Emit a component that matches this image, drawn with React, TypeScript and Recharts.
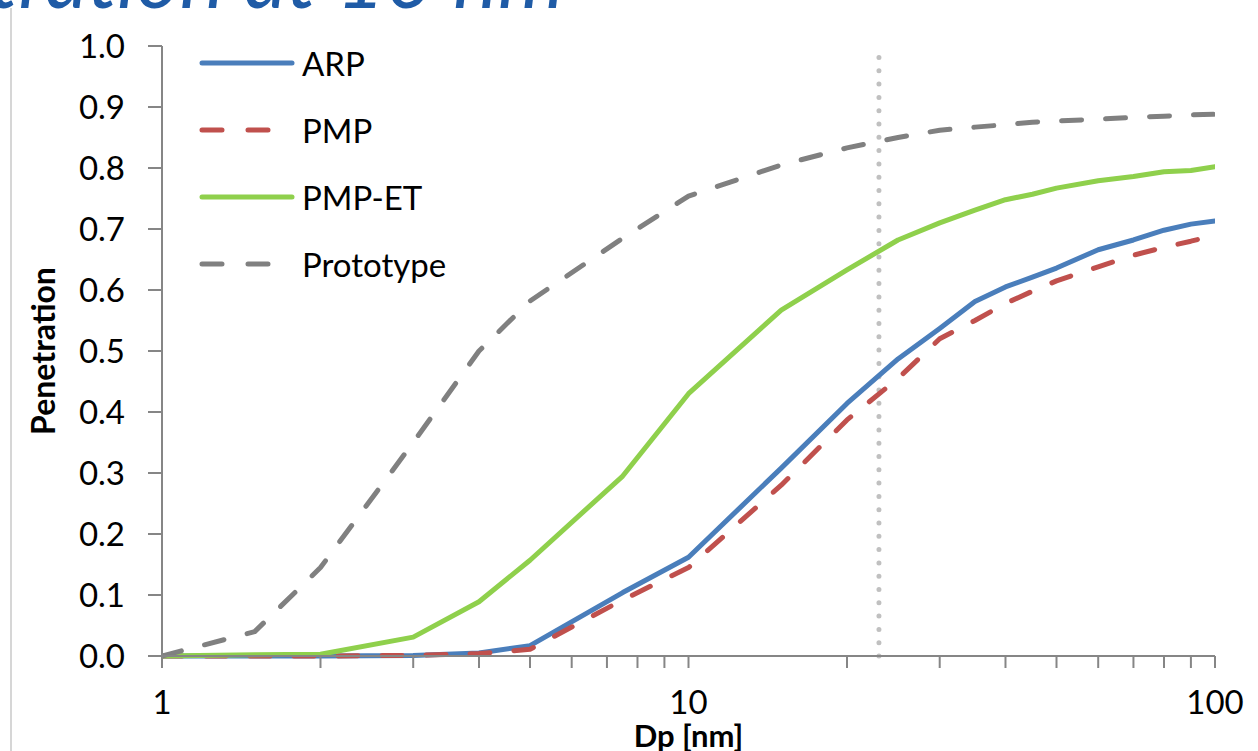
import { Legend, Line, LineChart, ReferenceLine, XAxis, YAxis } from "recharts";

const dp = [1, 1.5, 2, 3, 4, 5, 7.5, 10, 15, 20, 25, 30, 35, 40, 45, 50, 60, 70, 80, 90, 100];
const arp = [0, 0, 0, 0.001, 0.005, 0.017, 0.104, 0.162, 0.308, 0.414, 0.487, 0.537, 0.581, 0.605, 0.621, 0.636, 0.666, 0.682, 0.698, 0.708, 0.713];
const pmp = [0, 0, 0, 0.001, 0.004, 0.011, 0.092, 0.145, 0.28, 0.387, 0.455, 0.52, 0.55, 0.578, 0.598, 0.615, 0.638, 0.657, 0.67, 0.68, 0.69];
const pmpEt = [0, 0.002, 0.003, 0.031, 0.089, 0.157, 0.295, 0.43, 0.567, 0.633, 0.682, 0.71, 0.731, 0.748, 0.757, 0.767, 0.779, 0.786, 0.794, 0.796, 0.802];
const prototype = [0, 0.04, 0.145, 0.35, 0.5, 0.582, 0.685, 0.754, 0.805, 0.833, 0.85, 0.862, 0.867, 0.871, 0.875, 0.877, 0.88, 0.883, 0.885, 0.887, 0.888];

const xTicks = [1, 2, 3, 4, 5, 6, 7, 8, 9, 10, 20, 30, 40, 50, 60, 70, 80, 90, 100];
const xLabelled = [1, 10, 100];
const yTicks = [0, 0.1, 0.2, 0.3, 0.4, 0.5, 0.6, 0.7, 0.8, 0.9, 1.0];
const markerDp = 23;

const SERIES = [
  { key: "ARP", color: "#4a7ebb", dashed: false },
  { key: "PMP", color: "#c0504d", dashed: true },
  { key: "PMP-ET", color: "#8fd04c", dashed: false },
  { key: "Prototype", color: "#808080", dashed: true },
];

const rows = dp.map((d, i) => ({
  dp: d,
  ARP: arp[i],
  PMP: pmp[i],
  "PMP-ET": pmpEt[i],
  Prototype: prototype[i],
}));

const FONT = "Lato, 'Liberation Sans', sans-serif";
const AXIS = "#868686";

function LegendBox() {
  return (
    <div style={{ fontFamily: FONT, fontSize: 33, color: "#000" }}>
      {SERIES.map((s) => (
        <div key={s.key} style={{ display: "flex", alignItems: "center", height: 67 }}>
          <svg width={100} height={12} style={{ marginRight: 3 }}>
            <line
              x1={3}
              x2={s.dashed ? 76 : 93}
              y1={6}
              y2={6}
              stroke={s.color}
              strokeWidth={5}
              strokeLinecap="round"
              strokeDasharray={s.dashed ? "20 26" : undefined}
            />
          </svg>
          <span>{s.key}</span>
        </div>
      ))}
    </div>
  );
}

export default function App() {
  return (
    <div style={{ position: "absolute", left: 0, top: 0, width: 1258, height: 751, background: "#fff", overflow: "hidden" }}>
      <svg width={1258} height={751} style={{ position: "absolute", left: 0, top: 0 }}>
        <text x={564} y={8} textAnchor="end" fontFamily={FONT} fontStyle="italic" fontSize={84} fill="#1f5ba6">
          Penetration at 10 nm
        </text>
        <line x1={11} x2={11} y1={8} y2={751} stroke="#c8c8c8" strokeWidth={1.5} />
      </svg>
      <div style={{ position: "absolute", left: 0, top: 0 }}>
        <LineChart width={1258} height={751} data={rows} margin={{ top: 46, right: 43, bottom: 0, left: 0 }}>
          <XAxis
            dataKey="dp"
            type="number"
            scale="log"
            domain={[1, 100]}
            allowDataOverflow
            ticks={xTicks}
            interval={0}
            tickFormatter={(v: number) => (xLabelled.includes(v) ? String(v) : "")}
            height={95}
            stroke={AXIS}
            strokeWidth={2}
            tickSize={12}
            tickMargin={23}
            tick={{ fill: "#000", fontSize: 33, fontFamily: FONT }}
            label={{
              value: "Dp [nm]",
              position: "insideBottom",
              offset: 4,
              fill: "#000",
              fontSize: 31,
              fontWeight: 700,
              fontFamily: FONT,
            }}
          />
          <YAxis
            type="number"
            domain={[0, 1]}
            ticks={yTicks}
            interval={0}
            tickFormatter={(v: number) => v.toFixed(1)}
            width={162}
            stroke={AXIS}
            strokeWidth={2}
            tickSize={14}
            tickMargin={23}
            tick={{ fill: "#000", fontSize: 33, fontFamily: FONT }}
            label={{
              value: "Penetration",
              angle: -90,
              position: "insideLeft",
              offset: 44,
              style: { textAnchor: "middle" },
              fill: "#000",
              fontSize: 32,
              fontWeight: 700,
              fontFamily: FONT,
            }}
          />
          <ReferenceLine
            x={markerDp}
            stroke="#c0c0c0"
            strokeWidth={5}
            strokeDasharray="0 13.3"
            strokeLinecap="round"
          />
          {SERIES.map((s) => (
            <Line
              key={s.key}
              dataKey={s.key}
              stroke={s.color}
              strokeWidth={5}
              strokeDasharray={s.dashed ? "20 24" : undefined}
              strokeLinecap="round"
              strokeLinejoin="round"
              dot={false}
              activeDot={false}
              type="linear"
              isAnimationActive={false}
            />
          ))}
          <Legend
            layout="vertical"
            align="center"
            verticalAlign="middle"
            content={() => <LegendBox />}
            wrapperStyle={{ left: 199, top: 29, width: 320 }}
          />
        </LineChart>
      </div>
    </div>
  );
}
